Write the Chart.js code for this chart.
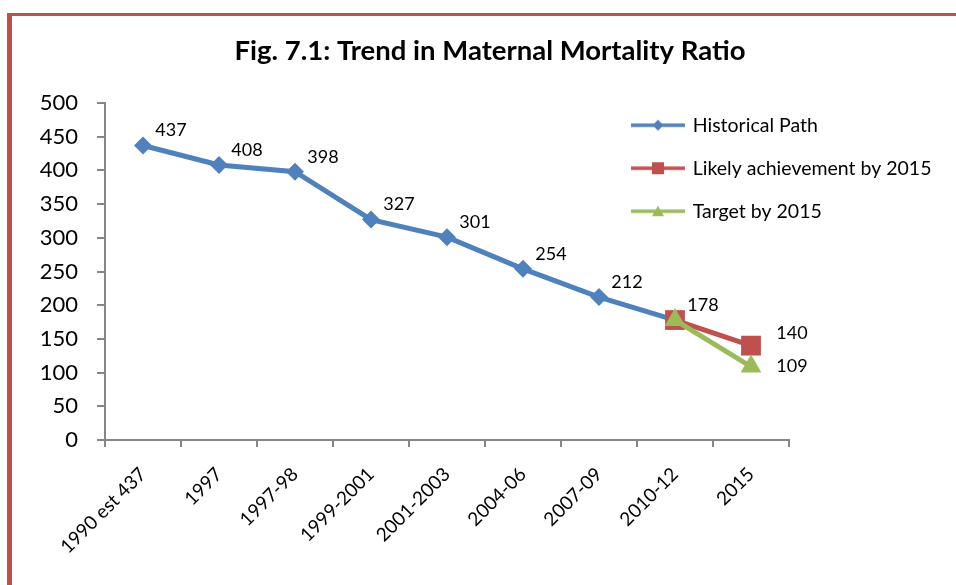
<!DOCTYPE html>
<html>
<head>
<meta charset="utf-8">
<script src="https://cdn.jsdelivr.net/npm/chart.js@4.4.0/dist/chart.umd.min.js"></script>
<style>
  html, body { margin: 0; padding: 0; background: #fff; }
</style>
</head>
<body>
<canvas id="mmrChart" width="956" height="585"></canvas>
<script>
// values
var periods = ['1990 est 437', '1997', '1997-98', '1999-2001', '2001-2003', '2004-06', '2007-09', '2010-12', '2015'];
var historicalPath = [437, 408, 398, 327, 301, 254, 212, 178, null];
var likelyBy2015 = [null, null, null, null, null, null, null, 178, 140];
var targetBy2015 = [null, null, null, null, null, null, null, 178, 109];
var yTicks = [0, 50, 100, 150, 200, 250, 300, 350, 400, 450, 500];

var BLUE = '#4F81BD', RED = '#C0504D', GREEN = '#9BBB59', AXIS = '#868686';

// small line + marker picture used as the legend symbol
function legendMark(color, shape) {
    var c = document.createElement('canvas');
    c.width = 54;
    c.height = 16;
    var g = c.getContext('2d');
    g.strokeStyle = color;
    g.fillStyle = color;
    g.lineWidth = 3.5;
    g.beginPath();
    g.moveTo(0, 8);
    g.lineTo(54, 8);
    g.stroke();
    g.beginPath();
    if (shape === 'diamond') {
        g.moveTo(27, 2.5); g.lineTo(32.5, 8); g.lineTo(27, 13.5); g.lineTo(21.5, 8);
    } else if (shape === 'square') {
        g.rect(21, 2, 12, 12);
    } else {
        g.moveTo(27, 2.5); g.lineTo(33, 13); g.lineTo(21, 13);
    }
    g.closePath();
    g.fill();
    return c;
}

// red frame of the figure box
var frame = {
    id: 'frame',
    beforeDraw: function (chart) {
        var ctx = chart.ctx;
        ctx.save();
        ctx.fillStyle = RED;
        ctx.fillRect(7, 13, 949, 3);
        ctx.fillRect(7, 13, 5, 572);
        ctx.restore();
    }
};

// value labels next to the points (shared 178 only once)
var pointLabels = {
    id: 'pointLabels',
    afterDatasetsDraw: function (chart) {
        var ctx = chart.ctx;
        var seen = {};
        ctx.save();
        ctx.font = '18px Lato';
        ctx.fillStyle = '#000';
        ctx.textAlign = 'center';
        ctx.textBaseline = 'middle';
        chart.data.datasets.forEach(function (ds, i) {
            var meta = chart.getDatasetMeta(i);
            meta.data.forEach(function (pt, j) {
                var v = ds.data[j];
                var key = j + ':' + v;
                if (v === null || seen[key]) return;
                seen[key] = true;
                ctx.fillText(String(v), pt.x + ds.labelOffset[0], pt.y + ds.labelOffset[1]);
            });
        });
        ctx.restore();
    }
};

// legend sits inside the plot area at the top right, title a bit right of centre
var placeBlocks = {
    id: 'placeBlocks',
    afterLayout: function (chart) {
        var lg = chart.legend;
        var w = lg.width;
        lg.left = 633 - lg.options.labels.padding;
        lg.right = lg.left + w;
        lg.top = 92;
        var tb = chart.titleBlock;
        var shift = 490 - (tb.left + tb.right) / 2;
        tb.left += shift;
        tb.right += shift;
    }
};

var ctx = document.getElementById('mmrChart').getContext('2d');
var mmrChart = new Chart(ctx, {
    type: 'line',
    data: {
        labels: periods,
        datasets: [
            {
                label: 'Historical Path',
                data: historicalPath,
                borderColor: BLUE,
                backgroundColor: BLUE,
                borderWidth: 5,
                pointStyle: 'rectRot',
                pointRadius: 9,
                pointBorderWidth: 0,
                labelMark: legendMark(BLUE, 'diamond'),
                labelOffset: [28, -15],
                order: 2
            },
            {
                label: 'Likely achievement by 2015',
                data: likelyBy2015,
                borderColor: RED,
                backgroundColor: RED,
                borderWidth: 5,
                pointStyle: 'rect',
                pointRadius: 14,
                pointBorderWidth: 0,
                labelMark: legendMark(RED, 'square'),
                labelOffset: [41, -12],
                order: 1
            },
            {
                label: 'Target by 2015',
                data: targetBy2015,
                borderColor: GREEN,
                backgroundColor: GREEN,
                borderWidth: 5,
                pointStyle: 'triangle',
                pointRadius: 12,
                pointBorderWidth: 0,
                labelMark: legendMark(GREEN, 'triangle'),
                labelOffset: [41, 0],
                order: 0
            }
        ]
    },
    options: {
        responsive: false,
        animation: false,
        events: [],
        layout: { padding: { left: 0, right: 167, top: 0, bottom: 0 } },
        elements: { line: { tension: 0 } },
        scales: {
            x: {
                offset: true,
                grid: { offset: true, drawOnChartArea: false, tickLength: 7, color: AXIS, lineWidth: 2 },
                border: { color: AXIS, width: 2 },
                ticks: {
                    autoSkip: false,
                    minRotation: 45,
                    maxRotation: 45,
                    padding: 16,
                    color: '#000',
                    font: { family: 'Lato', size: 19 }
                },
                afterFit: function (s) { s.height = 145; }
            },
            y: {
                min: 0,
                max: 500,
                grid: { drawOnChartArea: false, tickLength: 8, color: AXIS, lineWidth: 2 },
                border: { color: AXIS, width: 2 },
                ticks: {
                    padding: 19,
                    color: '#000',
                    font: { family: 'Lato', size: 22 }
                },
                afterBuildTicks: function (s) {
                    s.ticks = yTicks.map(function (v) { return { value: v }; });
                },
                afterFit: function (s) { s.width = 105; }
            }
        },
        plugins: {
            title: {
                display: true,
                text: 'Fig. 7.1: Trend in Maternal Mortality Ratio',
                color: '#000',
                font: { family: 'Lato', size: 27.5, weight: 'bold' },
                padding: { top: 35, bottom: 35 }
            },
            legend: {
                position: 'chartArea',
                align: 'start',
                labels: {
                    usePointStyle: true,
                    pointStyleWidth: 50,
                    padding: 23.5,
                    color: '#000',
                    font: { family: 'Lato', size: 19.5 },
                    generateLabels: function (chart) {
                        return chart.data.datasets.map(function (ds, i) {
                            return {
                                text: ds.label,
                                pointStyle: ds.labelMark,
                                fillStyle: ds.borderColor,
                                strokeStyle: ds.borderColor,
                                lineWidth: 0,
                                hidden: false,
                                datasetIndex: i
                            };
                        });
                    }
                }
            },
            tooltip: { enabled: false }
        }
    },
    plugins: [frame, pointLabels, placeBlocks]
});
</script>
</body>
</html>
